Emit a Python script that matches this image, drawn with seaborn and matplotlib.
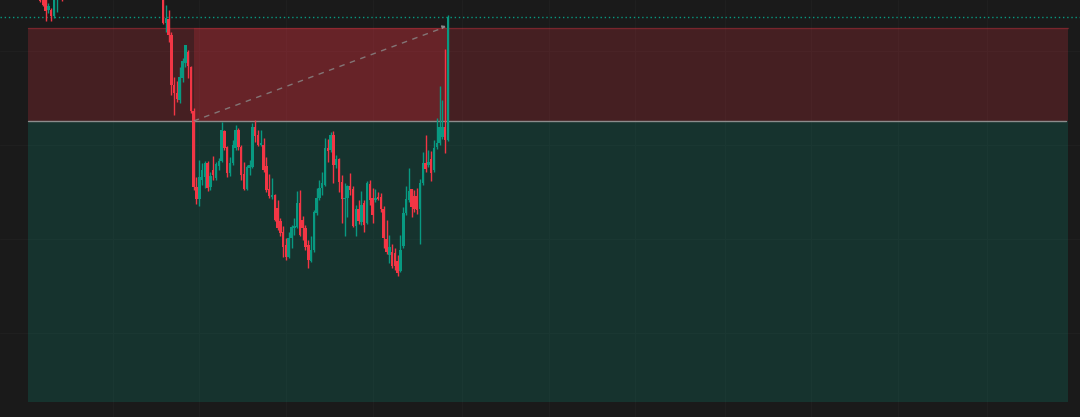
import numpy as np
import pandas as pd
import matplotlib
matplotlib.use('Agg')
import matplotlib.pyplot as plt
import seaborn as sns

BG     = '#1a1a1a'
UP     = '#089981'
DOWN   = '#f23645'
GRID   = '#1f1f1f'

# OHLC, one entry per bar (price units)
opens = [1006, 1002, 1000, 990, 990, 984, 1002, 1012, 1020,
         1006, 1014, 1022, 1018, 1030, 1027, 1038, 1046, 1041, 1052,
         1060, 1055, 1049, 1058, 1066, 1061, 1051, 1045, 1053, 1042,
         1036, 1043, 1032, 1026, 1033, 1022, 1028, 1016, 1023, 1012,
         1017, 1010, 1015, 1008, 1013,
         1006, 977, 981, 965, 915, 907, 900, 922, 937, 948,
         933, 889, 813, 801, 820, 823, 837, 813, 830, 822,
         834, 839, 869, 853, 827, 837, 852, 870, 853, 826,
         811, 832, 833, 873, 865, 855, 855, 834, 811, 803,
         805, 792, 779, 768, 755, 743, 762, 772, 773, 797,
         780, 772, 755, 739, 750, 787, 802, 812, 815, 852,
         850, 865, 835, 841, 818, 801, 802, 814, 811, 774,
         791, 778, 797, 777, 816, 802, 800, 803, 803, 791,
         761, 745, 748, 747, 739, 729, 754, 787, 800, 811,
         804, 804, 791, 817, 837, 835, 841, 830, 853, 857,
         863, 873, 860]
highs = [1009, 1005, 1003, 997, 992, 1008, 1015, 1025, 1024,
         1016, 1025, 1024, 1033, 1034, 1041, 1049, 1048, 1055, 1063,
         1064, 1057, 1061, 1070, 1068, 1063, 1054, 1056, 1055, 1045,
         1046, 1045, 1035, 1036, 1035, 1031, 1030, 1026, 1025, 1020,
         1019, 1018, 1017, 1016, 1015,
         1012, 995, 990, 968, 923, 919, 933, 942, 955, 950,
         934, 892, 823, 840, 837, 839, 839, 828, 844, 838,
         842, 878, 870, 854, 843, 860, 875, 872, 855, 838,
         835, 840, 877, 880, 870, 870, 862, 843, 826, 822,
         806, 800, 782, 774, 762, 768, 775, 782, 809, 810,
         784, 775, 760, 764, 790, 812, 820, 828, 862, 861,
         868, 869, 845, 842, 825, 817, 815, 827, 814, 795,
         800, 809, 800, 819, 820, 812, 811, 808, 807, 794,
         780, 765, 756, 752, 745, 765, 793, 814, 832, 811,
         810, 812, 821, 848, 865, 850, 849, 860, 882, 914,
         900, 951, 985]
lows = [998, 994, 979, 987, 979, 982, 988, 1008, 999,
        1003, 1011, 1015, 1016, 1024, 1025, 1036, 1038, 1039, 1050,
        1053, 1046, 1047, 1056, 1058, 1048, 1042, 1043, 1039, 1033,
        1034, 1029, 1023, 1024, 1019, 1020, 1013, 1014, 1009, 1010,
        1007, 1008, 1005, 1006, 1005,
        976, 968, 958, 905, 885, 898, 897, 918, 933, 922,
        887, 810, 796, 794, 815, 812, 809, 810, 820, 820,
        830, 838, 850, 823, 824, 835, 850, 850, 820, 810,
        810, 825, 832, 858, 854, 854, 828, 808, 802, 801,
        779, 770, 764, 743, 740, 742, 752, 765, 772, 764,
        760, 750, 732, 738, 748, 785, 800, 805, 814, 838,
        848, 817, 832, 808, 777, 764, 783, 805, 773, 764,
        776, 775, 768, 776, 795, 777, 798, 800, 788, 752,
        746, 737, 732, 730, 724, 728, 752, 785, 798, 783,
        788, 786, 756, 815, 828, 833, 819, 828, 851, 855,
        861, 847, 859]
closes = [999, 995, 989, 994, 984, 1004, 1012, 1020, 1006,
          1014, 1022, 1018, 1030, 1027, 1038, 1046, 1041, 1052, 1060,
          1055, 1049, 1058, 1066, 1061, 1051, 1045, 1053, 1042, 1036,
          1043, 1032, 1026, 1033, 1022, 1028, 1016, 1023, 1012, 1017,
          1010, 1015, 1008, 1013, 1007,
          977, 982, 965, 915, 907, 901, 923, 939, 955, 934,
          889, 813, 801, 823, 830, 837, 812, 824, 825, 836,
          839, 870, 852, 827, 837, 855, 870, 853, 825, 811,
          833, 835, 873, 864, 855, 857, 830, 810, 804, 805,
          780, 772, 767, 753, 743, 762, 773, 774, 797, 765,
          772, 753, 740, 750, 788, 802, 812, 817, 852, 849,
          865, 835, 841, 818, 801, 802, 814, 810, 774, 791,
          779, 795, 775, 817, 800, 785, 802, 801, 791, 762,
          748, 753, 734, 734, 727, 750, 787, 801, 809, 793,
          791, 790, 817, 837, 831, 838, 827, 852, 857, 873,
          873, 860, 983]

# short position tool
stop_price   = 972
entry_price  = 879
target_price = 598
entry_bar    = 55
exit_bar     = 146
exit_price   = 973
last_price   = 983

df = pd.DataFrame({'open': opens, 'high': highs, 'low': lows, 'close': closes})
df['bar'] = np.arange(len(df))
df['up'] = df['close'] >= df['open']

sns.set_theme(style='dark', rc={'axes.facecolor': BG, 'figure.facecolor': BG,
                                'savefig.facecolor': BG})

fig = plt.figure(figsize=(10.8, 4.17), dpi=100)
ax = fig.add_axes([0, 0, 1, 1])

ppb = 408 / (len(df) - 1)          # pixels per bar
ax.set_xlim(-40 / ppb, (len(df) - 1) + 632 / ppb)
ax.set_ylim(583, 1000)
tool_l, tool_r = -12 / ppb, (len(df) - 1) + 620 / ppb

# faint grid
for gx in [26, 57, 88, 119, 151, 182, 213, 245, 276, 307, 339]:
    ax.axvline(gx, color=GRID, lw=1, zorder=0)
for gy in [667, 761, 855, 949]:
    ax.axhline(gy, color=GRID, lw=1, zorder=0)

# risk / reward zones
ax.fill_between([tool_l, tool_r], entry_price, stop_price, color=DOWN, alpha=0.2, lw=0, zorder=1)
ax.fill_between([entry_bar, exit_bar], entry_price, stop_price, color=DOWN, alpha=0.2, lw=0, zorder=1)
ax.fill_between([tool_l, tool_r], target_price, entry_price, color=UP, alpha=0.2, lw=0, zorder=1)
ax.plot([tool_l, tool_r], [stop_price, stop_price], color=DOWN, alpha=0.3, lw=1, zorder=2)
ax.plot([tool_l, tool_r - 0.7], [entry_price, entry_price], color='#8c8c8c', lw=1, zorder=2)

# candles
for up, grp in df.groupby('up'):
    col = UP if up else DOWN
    ax.vlines(grp['bar'], grp['low'], grp['high'], color=col, lw=1, zorder=3)
    bottom = np.minimum(grp['open'], grp['close'])
    height = np.maximum(np.abs(grp['close'] - grp['open']), 1)
    ax.bar(grp['bar'], height, bottom=bottom, width=0.88, color=col, lw=0, zorder=4)

# trade path
ax.plot([entry_bar, exit_bar - 1], [entry_price, exit_price], color='#8a8a8a',
        lw=1, ls=(0, (4, 4)), alpha=0.8, zorder=5)
ax.annotate('', xy=(exit_bar - 0.8, exit_price + 1), xytext=(exit_bar - 2.5, exit_price - 0.5),
            arrowprops=dict(arrowstyle='-|>', color='#8a8a8a', lw=0.8, mutation_scale=5), zorder=5)

# last price line
ax.axhline(last_price, color=UP, lw=1, ls=(0, (1, 2)), zorder=2)

ax.set_xticks([]); ax.set_yticks([])
for s in ax.spines.values():
    s.set_visible(False)

fig.savefig('out.png', dpi=100, facecolor=BG)
